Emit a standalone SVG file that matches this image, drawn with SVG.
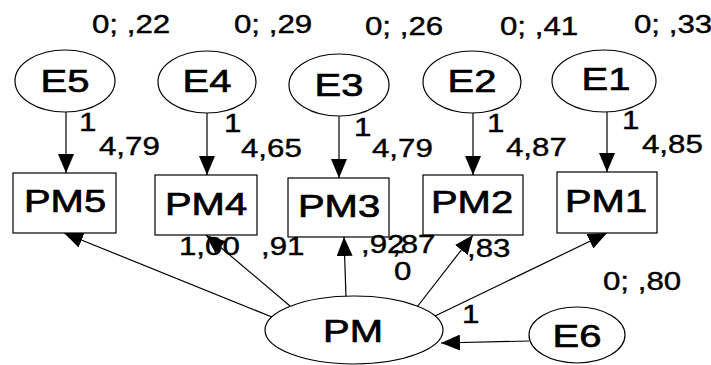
<svg xmlns="http://www.w3.org/2000/svg" width="711" height="365" viewBox="0 0 711 365">
  <style>
    .shape { fill: #fff; stroke: #000; stroke-width: 1.2; }
    .edge { fill: none; stroke: #000; stroke-width: 1.2; marker-end: url(#head); }
    text { font-family: "Liberation Sans", Arial, sans-serif; fill: #000; stroke: #000; stroke-width: 0.4; }
    .big { font-size: 32px; text-anchor: middle; stroke-width: 0.7; }
    .sm { font-size: 25px; }
  </style>
  <defs>
    <marker id="head" viewBox="0 0 19 16" refX="19" refY="8" markerWidth="19" markerHeight="16" markerUnits="userSpaceOnUse" orient="auto">
      <path d="M0,0 L19,8 L0,16 Z" fill="#000"/>
    </marker>
  </defs>
  <rect width="711" height="365" fill="#fff"/>

  <g id="connectors">
    <line class="edge" x1="66" y1="112" x2="66" y2="173"/>
    <line class="edge" x1="207" y1="113" x2="207" y2="175"/>
    <line class="edge" x1="339" y1="116" x2="339" y2="178"/>
    <line class="edge" x1="473" y1="113" x2="473" y2="175"/>
    <line class="edge" x1="607" y1="112" x2="607" y2="172"/>
    <line class="edge" x1="272" y1="317" x2="64" y2="233"/>
    <line class="edge" x1="290" y1="306" x2="206" y2="235"/>
    <line class="edge" x1="346" y1="297" x2="344" y2="237"/>
    <line class="edge" x1="417" y1="307" x2="473" y2="235"/>
    <line class="edge" x1="435" y1="316" x2="607" y2="233"/>
    <line class="edge" x1="529" y1="341" x2="441" y2="343"/>
  </g>

  <g id="E5"><ellipse class="shape" cx="65" cy="81" rx="50" ry="31"/><text class="big" transform="translate(65,92) scale(1.25,1)">E5</text></g>
  <g id="E4"><ellipse class="shape" cx="207" cy="82" rx="49" ry="31"/><text class="big" transform="translate(207,92) scale(1.25,1)">E4</text></g>
  <g id="E3"><ellipse class="shape" cx="339" cy="85" rx="50" ry="31"/><text class="big" transform="translate(339,96) scale(1.25,1)">E3</text></g>
  <g id="E2"><ellipse class="shape" cx="472" cy="82" rx="49" ry="31"/><text class="big" transform="translate(472,92) scale(1.25,1)">E2</text></g>
  <g id="E1"><ellipse class="shape" cx="604" cy="81" rx="52" ry="31"/><text class="big" transform="translate(606,90) scale(1.25,1)">E1</text></g>

  <g id="PM5"><rect class="shape" x="13" y="173" width="103" height="60"/><text class="big" transform="translate(65,212) scale(1.25,1)">PM5</text></g>
  <g id="PM4"><rect class="shape" x="155" y="175" width="102" height="60"/><text class="big" transform="translate(206,215) scale(1.25,1)">PM4</text></g>
  <g id="PM3"><rect class="shape" x="288" y="178" width="101" height="59"/><text class="big" transform="translate(339,217) scale(1.25,1)">PM3</text></g>
  <g id="PM2"><rect class="shape" x="423" y="175" width="100" height="60"/><text class="big" transform="translate(472,213) scale(1.25,1)">PM2</text></g>
  <g id="PM1"><rect class="shape" x="557" y="172" width="100" height="61"/><text class="big" transform="translate(606,212) scale(1.25,1)">PM1</text></g>

  <g id="PM"><ellipse class="shape" cx="354" cy="330" rx="89" ry="34"/><text class="big" transform="translate(353,342) scale(1.25,1)">PM</text></g>
  <g id="E6"><ellipse class="shape" cx="577" cy="335" rx="48" ry="28"/><text class="big" transform="translate(577,347) scale(1.25,1)">E6</text></g>

  <g id="labels">
    <text class="sm" transform="translate(92,33) scale(1.25,1)">0; ,22</text>
    <text class="sm" transform="translate(234,33) scale(1.25,1)">0; ,29</text>
    <text class="sm" transform="translate(365,35) scale(1.25,1)">0; ,26</text>
    <text class="sm" transform="translate(500,35) scale(1.25,1)">0; ,41</text>
    <text class="sm" transform="translate(634,33) scale(1.25,1)">0; ,33</text>

    <text class="sm" transform="translate(79,131) scale(1.25,1)">1</text>
    <text class="sm" transform="translate(224,132) scale(1.25,1)">1</text>
    <text class="sm" transform="translate(354,136) scale(1.25,1)">1</text>
    <text class="sm" transform="translate(487,132) scale(1.25,1)">1</text>
    <text class="sm" transform="translate(622,129) scale(1.25,1)">1</text>

    <text class="sm" transform="translate(99,155) scale(1.25,1)">4,79</text>
    <text class="sm" transform="translate(241,157) scale(1.25,1)">4,65</text>
    <text class="sm" transform="translate(372,157) scale(1.25,1)">4,79</text>
    <text class="sm" transform="translate(506,156) scale(1.25,1)">4,87</text>
    <text class="sm" transform="translate(642,153) scale(1.25,1)">4,85</text>

    <text class="sm" transform="translate(179,255) scale(1.25,1)">1,00</text>
    <text class="sm" transform="translate(261,255) scale(1.25,1)">,91</text>
    <text class="sm" transform="translate(361,253) scale(1.25,1)">,92</text>
    <text class="sm" transform="translate(392,253) scale(1.25,1)">,87</text>
    <text class="sm" transform="translate(394,280) scale(1.25,1)">0</text>
    <text class="sm" transform="translate(467,257) scale(1.25,1)">,83</text>
    <text class="sm" transform="translate(603,290) scale(1.25,1)">0; ,80</text>
    <text class="sm" transform="translate(462,323) scale(1.25,1)">1</text>
  </g>
</svg>
